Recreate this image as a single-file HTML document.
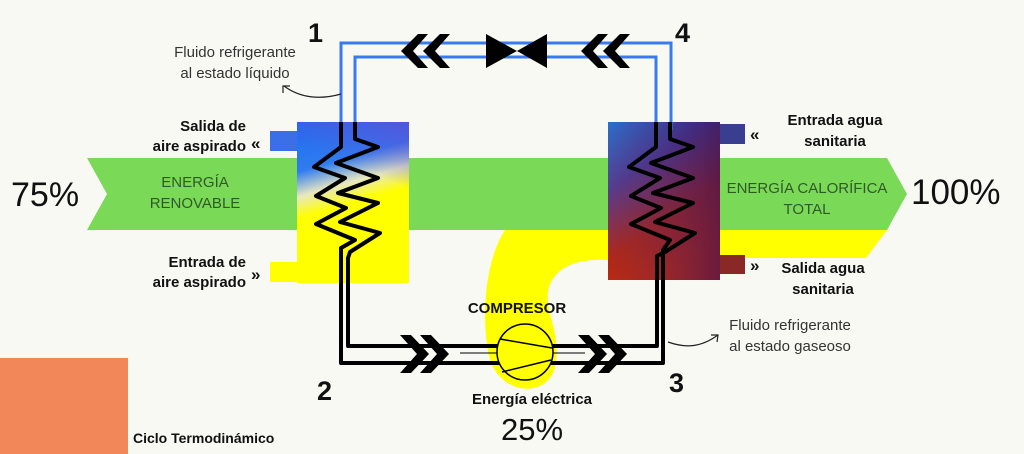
<!DOCTYPE html>
<html><head><meta charset="utf-8"><style>
html,body{margin:0;padding:0;background:#f9f9f4;}
svg{display:block;font-family:"Liberation Sans",sans-serif;}
</style></head><body>
<svg width="1024" height="454" viewBox="0 0 1024 454" xmlns="http://www.w3.org/2000/svg">
<defs>
<linearGradient id="lg" x1="0" y1="0" x2="0.2" y2="1">
<stop offset="0" stop-color="#1f6cf0"/><stop offset="0.3" stop-color="#2f7cf0"/><stop offset="0.45" stop-color="#e8e8c0"/><stop offset="0.58" stop-color="#ffff00"/><stop offset="1" stop-color="#ffff00"/>
</linearGradient>
<linearGradient id="lg2" x1="1" y1="0" x2="0.4" y2="1">
<stop offset="0" stop-color="#5a50d8" stop-opacity="0.85"/><stop offset="0.7" stop-color="#5a50d8" stop-opacity="0"/>
</linearGradient>
<linearGradient id="rg" x1="0" y1="0" x2="0.5" y2="1">
<stop offset="0" stop-color="#2a70cc"/><stop offset="0.35" stop-color="#573c8c"/><stop offset="0.7" stop-color="#b02818"/><stop offset="1" stop-color="#cc2a06"/>
</linearGradient>
<linearGradient id="rg2" x1="0" y1="0" x2="1" y2="0">
<stop offset="0" stop-color="#2a2a90" stop-opacity="0"/><stop offset="1" stop-color="#2a1060" stop-opacity="0.6"/>
</linearGradient>
</defs>
<polygon points="87,158 297,158 297,230 87,230 107,194" fill="#7ad957"/>
<polygon points="409,158 887,158 907,194 887,230 409,230" fill="#7ad957"/>
<polygon points="720,230 887,230 866,258 720,258" fill="#ffff00"/>
<path d="M505,230 C485,260 480,320 490,360 C503,398 552,398 556,362 C560,330 545,312 548,292 C552,266 580,258 608,260 L608,230 Z" fill="#ffff00"/>
<rect x="270" y="131" width="28" height="20" fill="#3a6fe8"/>
<rect x="270" y="262" width="28" height="20" fill="#ffff00"/>
<rect x="719" y="124" width="26" height="20" fill="#3a3e90"/>
<rect x="719" y="255" width="26" height="19" fill="#8a2828"/>
<rect x="297" y="122" width="112" height="161" fill="url(#lg)"/>
<rect x="297" y="122" width="112" height="70" fill="url(#lg2)"/>
<rect x="608" y="122" width="112" height="158" fill="url(#rg)"/>
<rect x="608" y="122" width="112" height="158" fill="url(#rg2)"/>
<g fill="none" stroke="#3a7af0" stroke-width="3">
<polyline points="341,130 341,43 671,43 671,130"/>
<polyline points="355,130 355,57 656,57 656,130"/>
</g>
<g fill="#000">
<polygon points="401,51 418,34 428,34 413,51 428,68 418,68"/>
<polygon points="423,51 440,34 450,34 435,51 450,68 440,68"/>
<polygon points="581,51 598,34 608,34 593,51 608,68 598,68"/>
<polygon points="603,51 620,34 630,34 615,51 630,68 620,68"/>
<polygon points="486,34 486,68 517,51"/>
<polygon points="547,34 547,68 517,51"/>
</g>
<g fill="none" stroke="#000" stroke-width="4" stroke-linejoin="round">
<polyline points="341,122 341,147 314,167 345,178 316,196 346,208 316,224 355,240 341,248 341,363 663,363 663,250 670,240 631,224 661,208 631,196 660,178 629,167 656,147 656,122"/>
<polyline points="355,122 355,139 378,147 336,163 378,178 338,193 378,203 340,222 380,233 350,252 348,258 348,346 657,346 657,256 665,252 695,233 655,222 693,203 653,193 693,178 651,163 693,147 670,139 670,122"/>
</g>
<circle cx="525" cy="352" r="28" fill="#ffff00" stroke="#000" stroke-width="1.5"/>
<line x1="500" y1="339" x2="552" y2="348" stroke="#000" stroke-width="1.5"/>
<line x1="502" y1="372" x2="551" y2="360" stroke="#000" stroke-width="1.5"/>
<line x1="460" y1="353" x2="497" y2="353" stroke="#000" stroke-width="1"/>
<line x1="553" y1="353" x2="585" y2="353" stroke="#000" stroke-width="1"/>
<g fill="#000">
<polygon points="400,335 411,335 429,354 411,373 400,373 417,354"/>
<polygon points="420,335 431,335 449,354 431,373 420,373 437,354"/>
<polygon points="578,335 589,335 607,354 589,373 578,373 595,354"/>
<polygon points="598,335 609,335 627,354 609,373 598,373 615,354"/>
</g>
<path d="M341,94 C320,100 300,98 284,86" fill="none" stroke="#222" stroke-width="1.2"/>
<polyline points="283,93 283,86 290,86" fill="none" stroke="#222" stroke-width="1.2"/>
<path d="M668,342 C685,348 700,348 718,335" fill="none" stroke="#222" stroke-width="1.2"/>
<polyline points="711,335 718,335 717,342" fill="none" stroke="#222" stroke-width="1.2"/>
<rect x="0" y="358" width="128" height="96" fill="#f2875a"/>
<g font-weight="bold" fill="#111">
<text x="308" y="42" font-size="27">1</text>
<text x="675" y="42" font-size="27">4</text>
<text x="317" y="400" font-size="27">2</text>
<text x="669" y="392" font-size="27">3</text>
<text x="246" y="131" font-size="15" text-anchor="end">Salida de</text>
<text x="246" y="151" font-size="15" text-anchor="end">aire aspirado</text>
<text x="246" y="267" font-size="15" text-anchor="end">Entrada de</text>
<text x="246" y="287" font-size="15" text-anchor="end">aire aspirado</text>
<text x="835" y="125" font-size="15" text-anchor="middle">Entrada agua</text>
<text x="835" y="146" font-size="15" text-anchor="middle">sanitaria</text>
<text x="823" y="273" font-size="15" text-anchor="middle">Salida agua</text>
<text x="823" y="294" font-size="15" text-anchor="middle">sanitaria</text>
<text x="517" y="313" font-size="15" text-anchor="middle">COMPRESOR</text>
<text x="532" y="404" font-size="15" text-anchor="middle">Energía eléctrica</text>
<text x="133" y="443" font-size="14">Ciclo Termodinámico</text>
<text x="251" y="149" font-size="17">«</text>
<text x="251" y="280" font-size="17">»</text>
<text x="750" y="140" font-size="17">«</text>
<text x="750" y="271" font-size="17">»</text>
</g>
<g fill="#111">
<text x="11" y="206" font-size="34">75%</text>
<text x="911" y="204" font-size="35">100%</text>
<text x="532" y="440" font-size="31" text-anchor="middle">25%</text>
</g>
<g fill="#333" font-size="15" text-anchor="middle">
<text x="235" y="57">Fluido refrigerante</text>
<text x="235" y="78">al estado líquido</text>
<text x="790" y="330">Fluido refrigerante</text>
<text x="790" y="351">al estado gaseoso</text>
</g>
<g fill="#2f5a28" font-size="15" text-anchor="middle">
<text x="195" y="187">ENERGÍA</text>
<text x="195" y="208">RENOVABLE</text>
<text x="807" y="193">ENERGÍA CALORÍFICA</text>
<text x="807" y="214">TOTAL</text>
</g>
</svg>
</body></html>
